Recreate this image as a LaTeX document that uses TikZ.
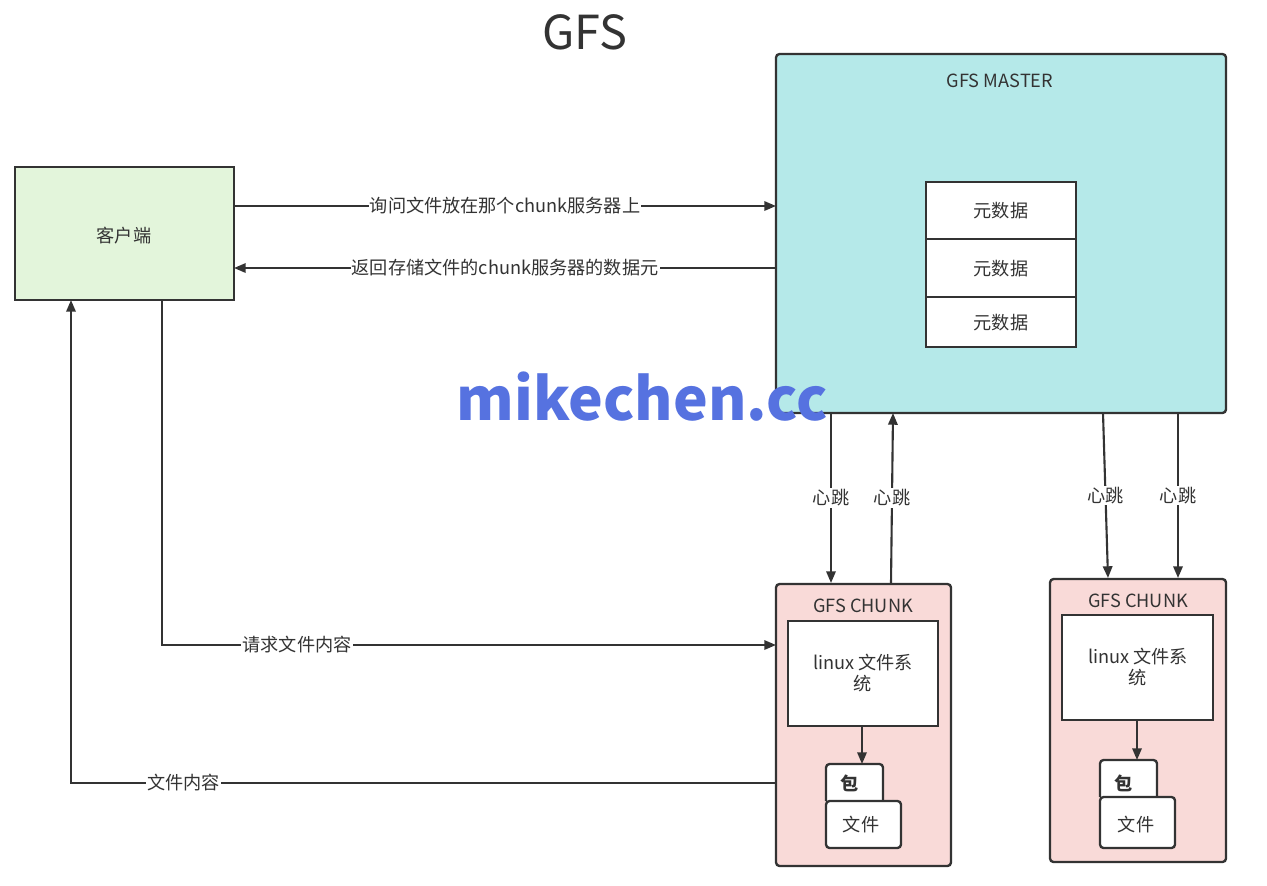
\documentclass[tikz,border=0pt]{standalone}
\usepackage{fontspec}
\setmainfont{Noto Sans CJK SC}
\usetikzlibrary{arrows.meta}
\definecolor{line}{HTML}{333333}
\definecolor{mfill}{HTML}{B5E9E9}
\definecolor{cfill}{HTML}{E3F5DB}
\definecolor{kfill}{HTML}{F9DAD8}
\definecolor{wm}{HTML}{5672E0}
\begin{document}
\begin{tikzpicture}[x=0.03cm,y=-0.03cm,
 box/.style={draw=line,line width=2pt},
 rbox/.style={draw=line,line width=2pt,rounded corners=3pt},
 arr/.style={draw=line,line width=1.8pt,-{Triangle[length=10pt,width=8pt]}},
 lbl/.style={fill=white,inner sep=1pt,font=\fontsize{15.5}{17}\selectfont,text=line},
 txt/.style={font=\fontsize{15.5}{18}\selectfont,text=line,align=center}]
\useasboundingbox (0,0) rectangle (1267,885);
\node[font=\fontsize{40}{44}\selectfont,text=line] (title) at (585,32) {GFS};
% master
\draw[rbox,fill=mfill] (776,54) rectangle (1226,413);
\coordinate (mL1) at (776,206); \coordinate (mL2) at (776,268);
\node[txt] (mt) at (1000,81) {GFS MASTER};
\draw[box,fill=white] (926,182) rectangle (1076,239);
\draw[box,fill=white] (926,239) rectangle (1076,297);
\draw[box,fill=white] (926,297) rectangle (1076,347);
\node[txt] (m1) at (1001,211) {元数据};
\node[txt] (m2) at (1001,269) {元数据};
\node[txt] (m3) at (1001,323) {元数据};
% client
\draw[box,fill=cfill] (15,167) rectangle (234,300);
\node[txt] (cl) at (124,236) {客户端};
\coordinate (cR1) at (234,206); \coordinate (cR2) at (234,268);
\draw[arr] (cR1) -- node[lbl]{询问文件放在那个chunk服务器上} (mL1);
\draw[arr] (mL2) -- node[lbl]{返回存储文件的chunk服务器的数据元} (cR2);
% chunk 1
\draw[rbox,fill=kfill] (776,584) rectangle (951,866);
\node[txt] (k1) at (863,606) {GFS CHUNK};
\draw[box,fill=white] (788,621) rectangle (938,726);
\node[txt] (f1) at (863,673) {linux 文件系\\统};
\draw[arr] (862,726) -- (862,764);
\draw[rbox,fill=white] (826,801) |- (883,764) -- (883,801);
\draw[rbox,fill=white] (826,801) rectangle (901,848);
\node[font=\bfseries\fontsize{15.5}{17}\selectfont,text=line] (p1) at (850,783) {包};
\node[txt] (w1) at (861,825) {文件};
% chunk 2
\draw[rbox,fill=kfill] (1050,579) rectangle (1226,862);
\node[txt] (k2) at (1138,601) {GFS CHUNK};
\draw[box,fill=white] (1062,615) rectangle (1213,720);
\node[txt] (f2) at (1138,667) {linux 文件系\\统};
\draw[arr] (1137,720) -- (1137,760);
\draw[rbox,fill=white] (1100,797) |- (1157,760) -- (1157,797);
\draw[rbox,fill=white] (1100,797) rectangle (1175,848);
\node[font=\bfseries\fontsize{15.5}{17}\selectfont,text=line] (p2) at (1124,783) {包};
\node[txt] (w2) at (1136,825) {文件};
% heartbeats
\draw[arr] (831,413) -- node[lbl]{心跳} (831,583);
\draw[arr] (891,583) -- node[lbl]{心跳} (893,413);
\draw[arr] (1103,413) -- node[lbl]{心跳} (1108,578);
\draw[arr] (1178,413) -- node[lbl]{心跳} (1178,578);
% client to chunk
\coordinate (a1) at (162,300); \coordinate (a2) at (162,645); \coordinate (a3) at (776,645);
\draw[arr] (a1) -- (a2) -- node[lbl,pos=0.22]{请求文件内容} (a3);
\coordinate (b1) at (776,783); \coordinate (b2) at (71,783); \coordinate (b3) at (71,300);
\draw[arr] (b1) -- node[lbl,pos=0.84]{文件内容} (b2) -- (b3);
\node[font=\bfseries\fontsize{50}{54}\selectfont,text=wm] (wmk) at (642,397) {mikechen.cc};
\end{tikzpicture}
\end{document}
